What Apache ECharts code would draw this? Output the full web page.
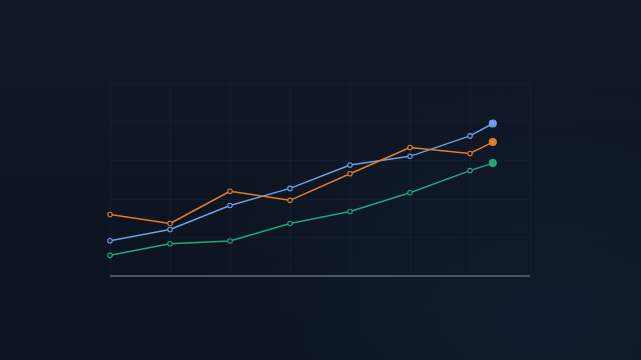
<!DOCTYPE html>
<html><head><meta charset="utf-8">
<script src="https://cdn.jsdelivr.net/npm/echarts@6/dist/echarts.min.js"></script>
<style>
html,body{margin:0;padding:0;width:641px;height:360px;overflow:hidden;
background:radial-gradient(ellipse 55% 65% at 85% 88%, #0f1b2d 0%, rgba(14,26,43,0) 100%), linear-gradient(180deg,#101826 0%,#0e1522 60%,#0c1320 100%);}
#c{width:641px;height:360px;}
</style></head><body>
<div id="c"></div>
<script>
const xPositions = [0, 1, 2, 3, 4, 5, 6, 6.38];
const blueValues = [18.3, 24.1, 36.5, 45.4, 57.5, 62.0, 72.6, 79.0];
const orangeValues = [31.9, 27.2, 43.9, 39.2, 53.0, 66.6, 63.5, 69.4];
const greenValues = [10.7, 16.7, 18.1, 27.2, 33.4, 43.1, 54.6, 58.5];
const seriesNames = ['A', 'B', 'C'];
const colors = ['#6f9ee8', '#e27b2e', '#24a67a'];

function pairs(vals){ return vals.map((v,i)=>[xPositions[i], v]); }
function mkSeries(name, vals, color){
  const d = pairs(vals).map((p,i)=> i===vals.length-1
    ? {value:p, symbol:'circle', symbolSize:7, itemStyle:{color:color, borderColor:color}}
    : {value:p});
  return {
    name, type:'line', data:d, symbol:'circle', symbolSize:4.5, showSymbol:true,
    lineStyle:{color, width:1.5},
    itemStyle:{color:'#0f1724', borderColor:color, borderWidth:1.1},
    emphasis:{disabled:true}, animation:false, z:3
  };
}
const chart = echarts.init(document.getElementById('c'), null, {renderer:'canvas'});
chart.setOption({
  backgroundColor:'transparent',
  animation:false,
  grid:{left:110, right:111, top:83, bottom:84},
  xAxis:{type:'value', min:0, max:7, interval:1,
    axisLine:{show:false}, axisTick:{show:false}, axisLabel:{show:false},
    splitLine:{show:true, lineStyle:{color:'rgba(140,160,200,0.045)', width:1}}},
  yAxis:{type:'value', min:0, max:100, interval:20,
    axisLine:{show:false}, axisTick:{show:false}, axisLabel:{show:false},
    splitLine:{show:true, lineStyle:{color:'rgba(140,160,200,0.045)', width:1}}},
  series:[
    mkSeries(seriesNames[0], blueValues, colors[0]),
    mkSeries(seriesNames[1], orangeValues, colors[1]),
    mkSeries(seriesNames[2], greenValues, colors[2]),
    {type:'line', data:[[0,0],[7,0]], symbol:'none', silent:true, z:1,
     lineStyle:{color:'#4d5462', width:2}}
  ]
});
</script></body></html>
